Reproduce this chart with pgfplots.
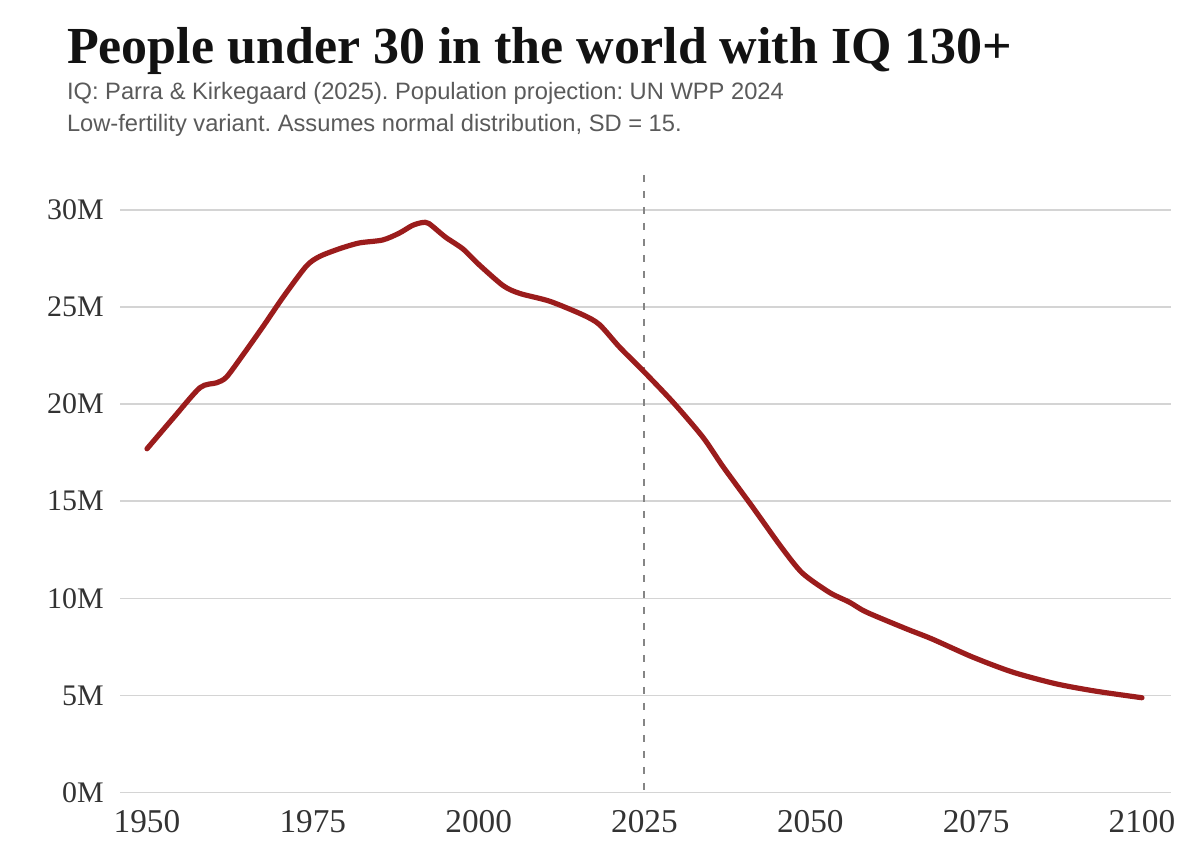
\documentclass[border=0pt]{standalone}
\usepackage{fontspec}
\setmainfont{Liberation Serif}
\newfontfamily\subfont{Liberation Sans}
\usepackage{pgfplots}
\pgfplotsset{compat=1.18}
\definecolor{linered}{HTML}{9B1C1C}
\definecolor{gridgray}{HTML}{D4D4D4}
\definecolor{subgray}{HTML}{5A5A5A}
\definecolor{ticktext}{HTML}{333333}
\definecolor{dashgray}{HTML}{858585}
\frenchspacing
\begin{document}
\begin{tikzpicture}
\path[use as bounding box] (0,0) rectangle (600bp,428.5bp);
\node[anchor=base west, inner sep=0pt, text=black!93] at (33.3bp,396.85bp) {\fontsize{26.1}{30}\selectfont\bfseries People under 30 in the world with IQ 130+};
\node[anchor=base west, inner sep=0pt, text=subgray] at (33.3bp,378.85bp) {\subfont\fontsize{11.9}{14}\selectfont IQ: Parra \& Kirkegaard (2025). Population projection: UN WPP 2024};
\node[anchor=base west, inner sep=0pt, text=subgray] at (33.3bp,362.65bp) {\subfont\fontsize{11.9}{14}\selectfont Low-fertility variant. Assumes normal distribution, SD = 15.};
\begin{axis}[
  at={(60bp,32.25bp)}, anchor=south west,
  width=525.5bp, height=308.75bp, scale only axis,
  xmin=1945.93, xmax=2104.38, ymin=0, ymax=31.8,
  axis line style={draw=none},
  clip=false,
  xtick={1950,1975,2000,2025,2050,2075,2100},
  xticklabels={1950,1975,2000,2025,2050,2075,2100},
  ytick={0,5,10,15,20,25,30},
  yticklabels={0M,5M,10M,15M,20M,25M,30M},
  major tick length=0pt, tick style={draw=none},
  ymajorgrids, grid style={gridgray, line width=0.75bp},
  xticklabel style={font=\fontsize{16.7}{18}\selectfont, text=ticktext, inner sep=0pt, anchor=north, yshift=-8.8bp},
  yticklabel style={font=\fontsize{15}{17}\selectfont, text=ticktext, inner sep=0pt, anchor=east, xshift=-8bp},
]
\addplot[dashgray, line width=1bp, dash pattern=on 3.5bp off 4.5bp] coordinates {(2025,31.8) (2025,0)};
\addplot[linered, line width=2.6bp, line cap=round, line join=round, smooth, tension=0.45] coordinates {
(1950,17.7) (1954,19.3) (1958,20.85) (1960.5,21.1) (1962,21.4) (1964.6,22.6)
(1967.5,24.0) (1970.5,25.5) (1974,27.1) (1976,27.6) (1979,28.0) (1982,28.3)
(1985.5,28.45) (1988,28.8) (1990,29.2) (1991.5,29.35) (1992.5,29.3) (1995,28.6)
(1997.6,28.0) (2000,27.2) (2003.7,26.1) (2006.2,25.7) (2010.7,25.3) (2015.7,24.6)
(2018.2,24.1) (2021.2,22.95) (2024.7,21.75) (2029.3,20.1) (2033.8,18.3) (2036.8,16.8)
(2041.3,14.7) (2045.6,12.65) (2048.8,11.3) (2052.9,10.3) (2055.9,9.8) (2058.4,9.3)
(2064.4,8.44) (2068.4,7.9) (2074.5,6.97) (2080.5,6.2) (2087,5.6) (2093,5.22) (2100,4.88)
};
\end{axis}
\end{tikzpicture}
\end{document}
